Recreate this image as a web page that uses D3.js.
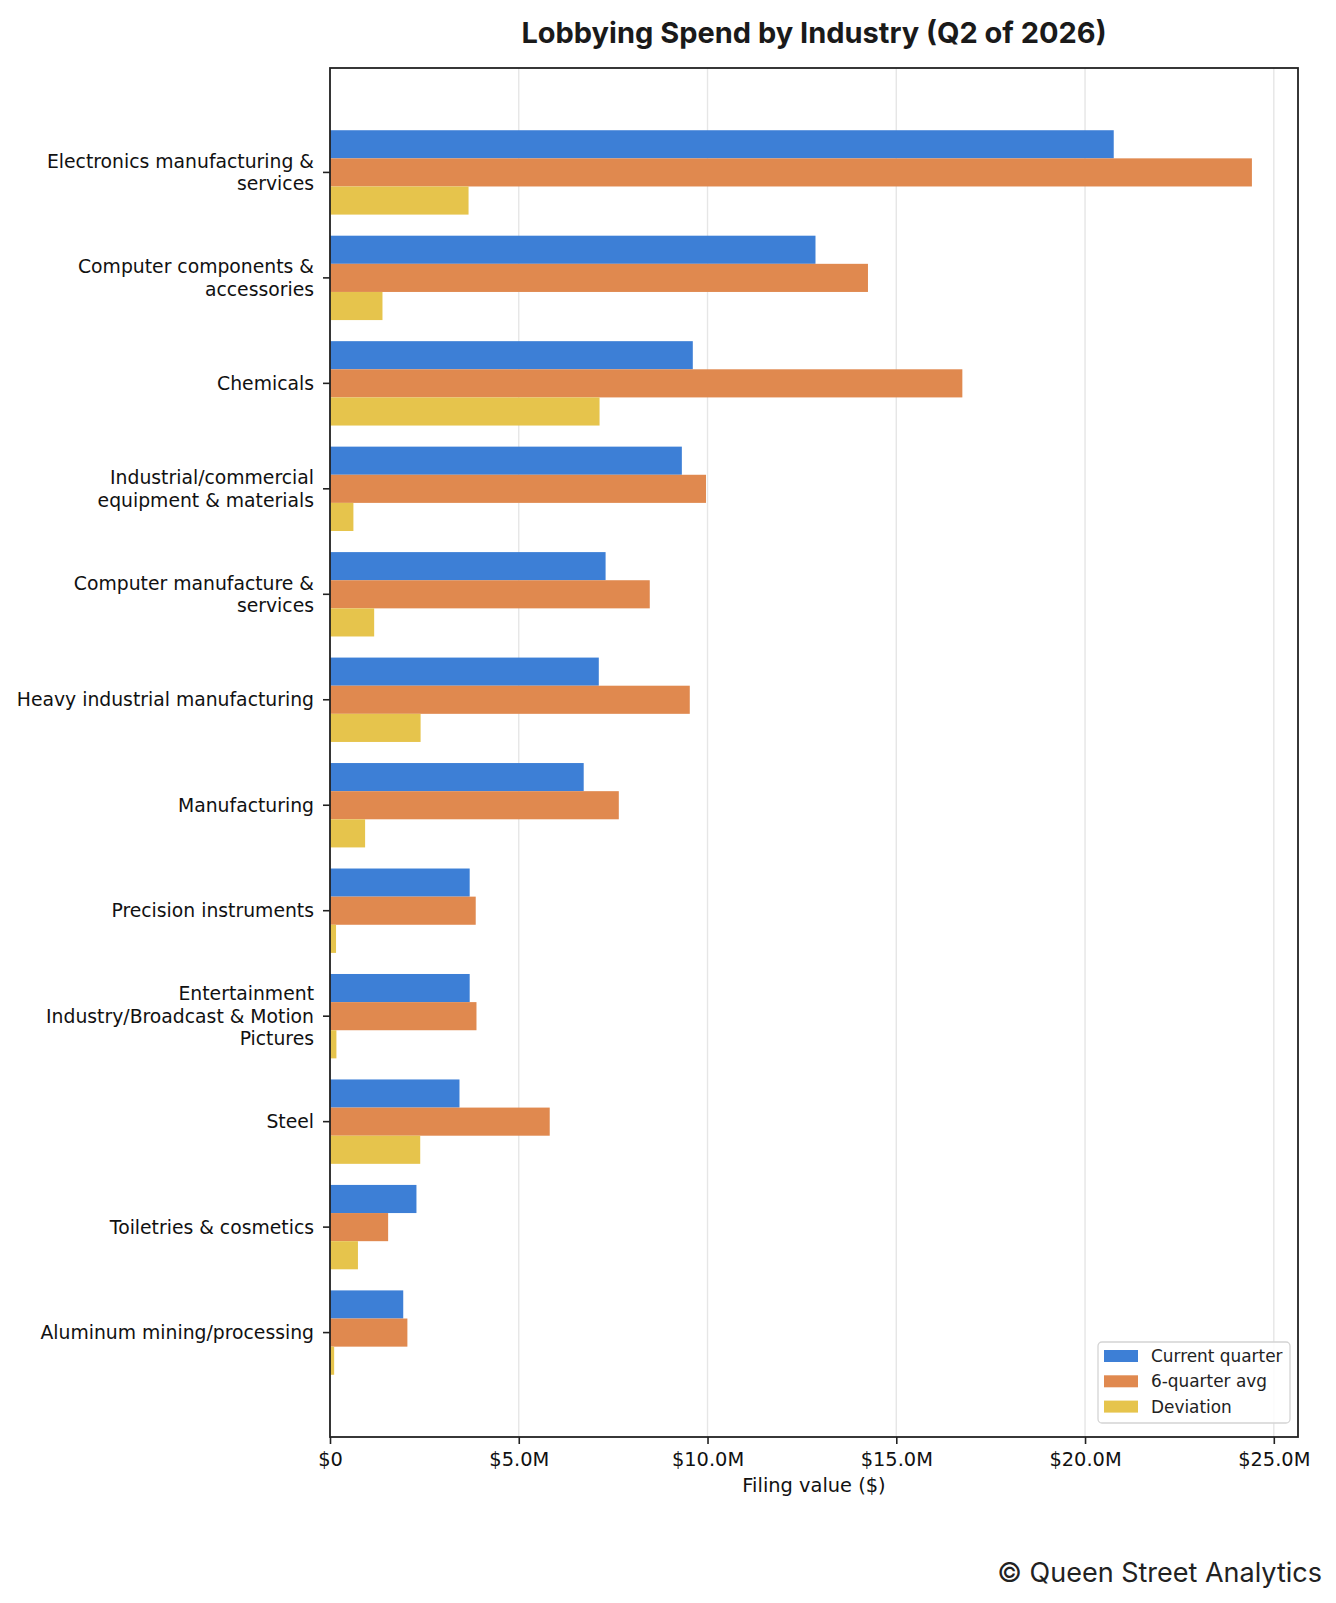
<!DOCTYPE html>
<html>
<head>
<meta charset="utf-8">
<script src="https://cdn.jsdelivr.net/npm/d3@7"></script>
<style>
  body { margin: 0; background: #fff; }
  svg { display: block; }
</style>
</head>
<body>
<svg id="chart" width="1336" height="1603"></svg>
<script>
// values, in $M
const categories = [
    "Electronics manufacturing & services",
    "Computer components & accessories",
    "Chemicals",
    "Industrial/commercial equipment & materials",
    "Computer manufacture & services",
    "Heavy industrial manufacturing",
    "Manufacturing",
    "Precision instruments",
    "Entertainment Industry/Broadcast & Motion Pictures",
    "Steel",
    "Toiletries & cosmetics",
    "Aluminum mining/processing"
];
const currentQuarter = [20.76, 12.86, 9.61, 9.32, 7.30, 7.12, 6.72, 3.70, 3.70, 3.43, 2.29, 1.94];
const sixQuarterAvg = [24.42, 14.25, 16.75, 9.96, 8.47, 9.53, 7.65, 3.86, 3.88, 5.82, 1.54, 2.05];
const deviation = [3.67, 1.39, 7.14, 0.62, 1.17, 2.40, 0.93, 0.16, 0.17, 2.39, 0.74, 0.11];
const seriesNames = ["Current quarter", "6-quarter avg", "Deviation"];
const xTicks = [0, 5, 10, 15, 20, 25];

const colors = ["#3d7fd6", "#e0894f", "#e6c44c"];
const seriesValues = [currentQuarter, sixQuarterAvg, deviation];

const svg = d3.select("#chart");
const margin = { top: 68, right: 38, bottom: 166, left: 330 };
const width = +svg.attr("width");
const height = +svg.attr("height");
const tickFont = "DejaVu Sans, sans-serif";

const x = d3.scaleLinear()
    .domain([0, d3.max(sixQuarterAvg.concat(currentQuarter)) * 1.05])
    .range([margin.left, width - margin.right]);

const y = d3.scaleBand()
    .domain(categories)
    .range([margin.top, height - margin.bottom])
    .paddingInner(0.2)
    .paddingOuter(0.59);

const ySub = d3.scaleBand()
    .domain(seriesNames)
    .range([0, y.bandwidth()]);

// gridlines
svg.append("g")
    .selectAll("line")
    .data(xTicks)
    .join("line")
    .attr("x1", d => x(d))
    .attr("x2", d => x(d))
    .attr("y1", margin.top)
    .attr("y2", height - margin.bottom)
    .attr("stroke", "#e6e6e6")
    .attr("stroke-width", 1.4);

// bars
const rows = categories.map((c, i) => ({ cat: c, vals: seriesValues.map((s, j) => ({ name: seriesNames[j], v: s[i], color: colors[j] })) }));

svg.append("g")
    .selectAll("g")
    .data(rows)
    .join("g")
    .attr("transform", d => `translate(0,${y(d.cat)})`)
    .selectAll("rect")
    .data(d => d.vals)
    .join("rect")
    .attr("x", x(0))
    .attr("y", d => ySub(d.name))
    .attr("width", d => x(d.v) - x(0))
    .attr("height", ySub.bandwidth())
    .attr("fill", d => d.color);

// x axis
const xAxis = svg.append("g")
    .attr("transform", `translate(0,${height - margin.bottom})`)
    .call(d3.axisBottom(x)
        .tickValues(xTicks)
        .tickSize(7)
        .tickPadding(8)
        .tickFormat(d => d === 0 ? "$0" : `$${d.toFixed(1)}M`));
xAxis.select(".domain").remove();
xAxis.selectAll(".tick line").attr("stroke", "#222").attr("stroke-width", 1.6);
xAxis.selectAll("text")
    .attr("fill", "#111")
    .style("font-family", tickFont)
    .style("font-size", "19.4px");

// y axis with wrapped labels
const wrap = (s, n) => {
    const out = [];
    let line = "";
    s.split(" ").forEach(w => {
        if (line && (line + " " + w).length > n) {
            out.push(line);
            line = w;
        } else {
            line = line ? line + " " + w : w;
        }
    });
    out.push(line);
    return out;
};

const yAxis = svg.append("g")
    .attr("transform", `translate(${margin.left},0)`)
    .call(d3.axisLeft(y).tickSize(7).tickPadding(9));
yAxis.select(".domain").remove();
yAxis.selectAll(".tick line").attr("stroke", "#222").attr("stroke-width", 1.6);
yAxis.selectAll(".tick text")
    .attr("fill", "#111")
    .style("font-family", tickFont)
    .style("font-size", "18.8px")
    .attr("dy", null)
    .each(function (d) {
        const lines = wrap(d, 30);
        const t = d3.select(this).text(null);
        const lh = 22.7;
        lines.forEach((l, i) => {
            t.append("tspan")
                .attr("x", -16)
                .attr("y", (i - (lines.length - 1) / 2) * lh)
                .attr("dy", "0.35em")
                .text(l);
        });
    });

// frame
svg.append("rect")
    .attr("x", margin.left)
    .attr("y", margin.top)
    .attr("width", width - margin.left - margin.right)
    .attr("height", height - margin.top - margin.bottom)
    .attr("fill", "none")
    .attr("stroke", "#222")
    .attr("stroke-width", 1.8);

// legend
const lg = svg.append("g").attr("transform", "translate(1098,1342)");
lg.append("rect")
    .attr("width", 192)
    .attr("height", 81)
    .attr("rx", 4)
    .attr("fill", "#fff")
    .attr("fill-opacity", 0.85)
    .attr("stroke", "#d4d4d4")
    .attr("stroke-width", 1.3);
seriesNames.forEach((name, i) => {
    lg.append("rect")
        .attr("x", 6)
        .attr("y", 8 + i * 25.3)
        .attr("width", 34)
        .attr("height", 12)
        .attr("fill", colors[i]);
    lg.append("text")
        .attr("x", 53)
        .attr("y", 14 + i * 25.3)
        .attr("dy", "0.35em")
        .style("font-family", tickFont)
        .style("font-size", "16.9px")
        .attr("fill", "#222")
        .text(name);
});

// title, axis label, credit
svg.append("text")
    .attr("x", (margin.left + width - margin.right) / 2)
    .attr("y", 43)
    .attr("text-anchor", "middle")
    .style("font-family", "Inter, sans-serif")
    .style("font-weight", 700)
    .style("font-size", "29px")
    .attr("fill", "#1a1a1a")
    .text("Lobbying Spend by Industry (Q2 of 2026)");

svg.append("text")
    .attr("x", (margin.left + width - margin.right) / 2)
    .attr("y", 1492)
    .attr("text-anchor", "middle")
    .style("font-family", tickFont)
    .style("font-size", "19.4px")
    .attr("fill", "#111")
    .text("Filing value ($)");

svg.append("text")
    .attr("x", 1322)
    .attr("y", 1582)
    .attr("text-anchor", "end")
    .style("font-family", "Inter, sans-serif")
    .style("font-size", "27px")
    .attr("fill", "#222")
    .text("© Queen Street Analytics");
</script>
</body>
</html>
